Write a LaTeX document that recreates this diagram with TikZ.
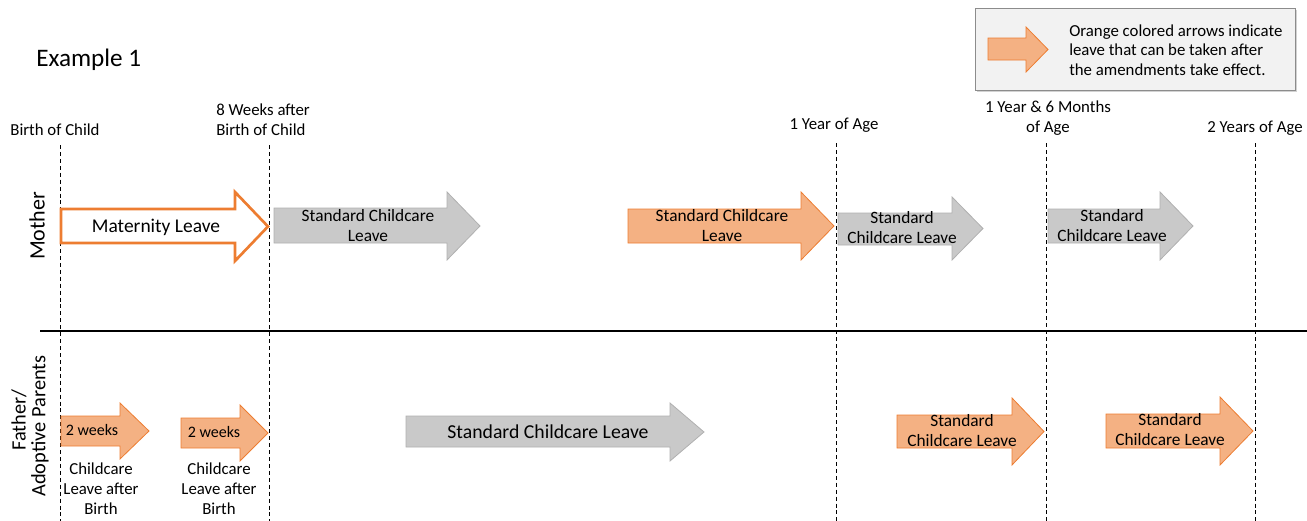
\documentclass[tikz,border=0pt]{standalone}
\usepackage{fontspec}
\setmainfont{Carlito}
\usetikzlibrary{shadows}
\definecolor{orfill}{HTML}{F4B183}
\definecolor{ordraw}{HTML}{ED7D31}
\definecolor{grfill}{HTML}{C9C9C9}
\definecolor{grdraw}{HTML}{B0B0B0}
\definecolor{lgfill}{HTML}{F2F2F2}
\newcommand\blockarrow[8]{%
  \path[#1] (#2,#5) -- (#3,#5) -- (#3,#7) -- (#4,{(#7+#8)/2}) -- (#3,#8) -- (#3,#6) -- (#2,#6) -- cycle;}
\begin{document}
\begin{tikzpicture}[x=0.75pt,y=-0.75pt,
  oarrow/.style={fill=orfill,draw=ordraw,line width=0.6pt,line join=miter},
  garrow/.style={fill=grfill,draw=grdraw,line width=0.6pt},
  matarrow/.style={fill=white,draw=ordraw,line width=2pt},
  lbl/.style={font=\fontsize{12.6}{15}\selectfont,inner sep=0pt,align=center},
  atxt/.style={font=\fontsize{13}{15}\selectfont,inner sep=0pt,align=center},
  vdash/.style={draw=black,line width=0.6pt,dash pattern=on 3pt off 2.2pt},
  side/.style={font=\fontsize{15.3}{16.5}\selectfont,rotate=90,inner sep=0pt}]
\useasboundingbox (0,0) rectangle (1307,521);

% title
\node[anchor=west,inner sep=0pt,font=\fontsize{18.9}{22}\selectfont] (title) at (36,60) {Example 1};

% legend
\node[draw=gray!90,fill=lgfill,line width=0.6pt,minimum width=240pt,minimum height=61.5pt,
  drop shadow={shadow xshift=1.5pt,shadow yshift=-1.5pt,fill=gray!70},anchor=north west,inner sep=0pt]
  (legend) at (975,8) {};
\blockarrow{oarrow}{988}{1026}{1048}{38}{60}{27}{72}
\node[anchor=west,align=left,inner sep=0pt,font=\fontsize{12.6}{14.5}\selectfont] (legtxt) at (1069,50)
  {Orange colored arrows indicate\\leave that can be taken after\\the amendments take effect.};

% time labels
\node[lbl] (l0) at (55,130) {Birth of Child};
\node[lbl,align=left,anchor=west] (l1) at (216,120) {8 Weeks after\\Birth of Child};
\node[lbl] (l2) at (834,125) {1 Year of Age};
\node[lbl] (l3) at (1048,118) {1 Year \& 6 Months\\of Age};
\node[lbl] (l4) at (1255,128) {2 Years of Age};

% dashed lines
\coordinate (t0) at (60,145);   \coordinate (b0) at (60,521);
\coordinate (t1) at (269,145);  \coordinate (b1) at (269,521);
\coordinate (t2) at (836,143);  \coordinate (b2) at (836,521);
\coordinate (t3) at (1046,143); \coordinate (b3) at (1046,521);
\coordinate (t4) at (1255,143); \coordinate (b4) at (1255,521);
\foreach \i in {0,...,4} {\draw[vdash] (t\i) -- (b\i);}

% separator
\coordinate (sepL) at (40,331);
\coordinate (sepR) at (1307,331);
\draw[line width=1.1pt] (sepL) -- (sepR);

% side labels
\node[side,font=\fontsize{16.5}{18}\selectfont] (mother) at (37,226) {Mother};
\node[side] (father1) at (19,420) {Father/};
\node[side] (father2) at (40,426) {Adoptive Parents};

% mother row
\blockarrow{matarrow}{61}{235}{268}{209}{243}{192}{261}
\node[inner sep=0pt,font=\fontsize{14.6}{17}\selectfont] (mat) at (156,227) {Maternity Leave};
\blockarrow{garrow}{274}{447}{480}{208}{243}{192}{260}
\node[atxt] (g1) at (368,226) {Standard Childcare\\Leave};
\blockarrow{oarrow}{628}{801}{834}{209}{243}{192}{260}
\node[atxt] (o1) at (722,226) {Standard Childcare\\Leave};
\blockarrow{garrow}{838}{952}{983}{213}{245}{197}{260}
\node[atxt] (g2) at (902,228) {Standard\\Childcare Leave};
\blockarrow{garrow}{1048}{1160}{1193}{209}{243}{192}{260}
\node[atxt] (g3) at (1112,226) {Standard\\Childcare Leave};

% father row
\blockarrow{oarrow}{61}{120}{149}{416}{446}{403}{459}
\node[atxt,font=\fontsize{12}{15}\selectfont] (w1) at (92,430) {2 weeks};
\blockarrow{oarrow}{181}{240}{268}{418}{448}{405}{461}
\node[atxt,font=\fontsize{12}{15}\selectfont] (w2) at (214,432) {2 weeks};
\node[lbl] (c1) at (101,489) {Childcare\\Leave after\\Birth};
\node[lbl] (c2) at (219,489) {Childcare\\Leave after\\Birth};
\blockarrow{garrow}{406}{670}{704}{416}{447}{403}{461}
\node[inner sep=0pt,font=\fontsize{14.8}{17}\selectfont] (gbig) at (548,432) {Standard Childcare Leave};
\blockarrow{oarrow}{897}{1012}{1044}{415}{448}{398}{465}
\node[atxt] (o3) at (962,431) {Standard\\Childcare Leave};
\blockarrow{oarrow}{1106}{1220}{1253}{414}{448}{397}{465}
\node[atxt] (o4) at (1170,430) {Standard\\Childcare Leave};
\end{tikzpicture}
\end{document}
